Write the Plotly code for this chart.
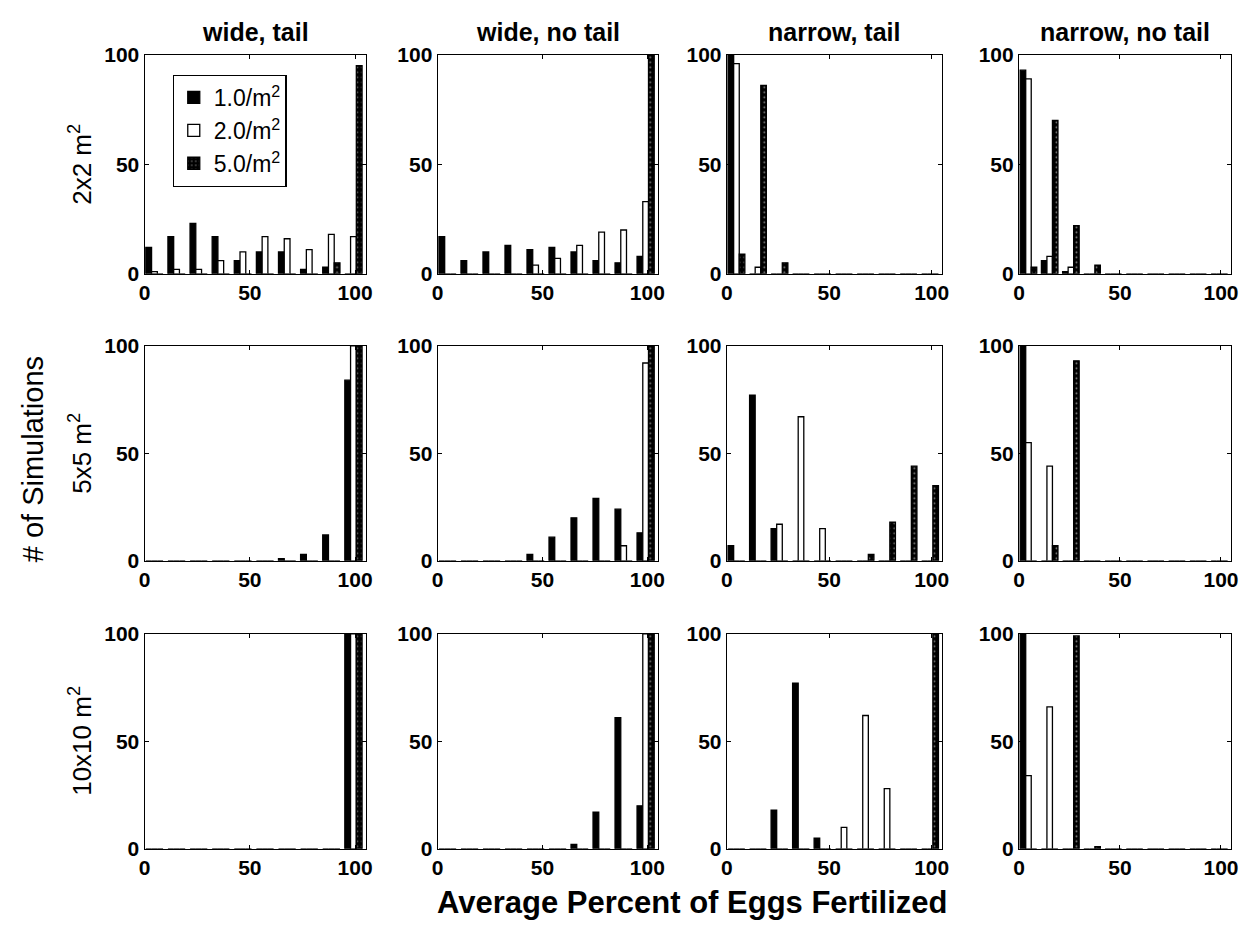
import plotly.graph_objects as go

# ---------------- data ----------------
bin_centers = [4.7, 15.2, 25.7, 36.2, 46.7, 57.2, 67.7, 78.2, 88.7, 99.2]
densities = ["1.0/m<sup>2</sup>", "2.0/m<sup>2</sup>", "5.0/m<sup>2</sup>"]
col_titles = ["wide, tail", "wide, no tail", "narrow, tail", "narrow, no tail"]
row_titles = ["2x2 m<sup>2</sup>", "5x5 m<sup>2</sup>", "10x10 m<sup>2</sup>"]
x_ticks = [0, 50, 100]
y_ticks = [0, 50, 100]

# 2x2 m^2
r1_wide_tail_d1 = [12, 17, 23, 17, 6, 10, 10, 2, 3, 0]
r1_wide_tail_d2 = [1, 2, 2, 6, 10, 17, 16, 11, 18, 17]
r1_wide_tail_d5 = [0, 0, 0, 0, 0, 0, 0, 0, 5, 95]
r1_wide_notail_d1 = [17, 6, 10, 13, 11, 12, 10, 6, 5, 8]
r1_wide_notail_d2 = [0, 0, 0, 0, 4, 7, 13, 19, 20, 33]
r1_wide_notail_d5 = [0, 0, 0, 0, 0, 0, 0, 0, 0, 100]
r1_narrow_tail_d1 = [100, 0, 0, 0, 0, 0, 0, 0, 0, 0]
r1_narrow_tail_d2 = [96, 3, 0, 0, 0, 0, 0, 0, 0, 0]
r1_narrow_tail_d5 = [9, 86, 5, 0, 0, 0, 0, 0, 0, 0]
r1_narrow_notail_d1 = [93, 6, 1, 0, 0, 0, 0, 0, 0, 0]
r1_narrow_notail_d2 = [89, 8, 3, 0, 0, 0, 0, 0, 0, 0]
r1_narrow_notail_d5 = [3, 70, 22, 4, 0, 0, 0, 0, 0, 0]

# 5x5 m^2
r2_wide_tail_d1 = [0, 0, 0, 0, 0, 0, 1, 3, 12, 84]
r2_wide_tail_d2 = [0, 0, 0, 0, 0, 0, 0, 0, 0, 100]
r2_wide_tail_d5 = [0, 0, 0, 0, 0, 0, 0, 0, 0, 100]
r2_wide_notail_d1 = [0, 0, 0, 0, 3, 11, 20, 29, 24, 13]
r2_wide_notail_d2 = [0, 0, 0, 0, 0, 0, 0, 0, 7, 92]
r2_wide_notail_d5 = [0, 0, 0, 0, 0, 0, 0, 0, 0, 100]
r2_narrow_tail_d1 = [7, 77, 15, 0, 0, 0, 0, 0, 0, 0]
r2_narrow_tail_d2 = [0, 0, 17, 67, 15, 0, 0, 0, 0, 0]
r2_narrow_tail_d5 = [0, 0, 0, 0, 0, 0, 3, 18, 44, 35]
r2_narrow_notail_d1 = [100, 0, 0, 0, 0, 0, 0, 0, 0, 0]
r2_narrow_notail_d2 = [55, 44, 0, 0, 0, 0, 0, 0, 0, 0]
r2_narrow_notail_d5 = [0, 7, 93, 0, 0, 0, 0, 0, 0, 0]

# 10x10 m^2
r3_wide_tail_d1 = [0, 0, 0, 0, 0, 0, 0, 0, 0, 100]
r3_wide_tail_d2 = [0, 0, 0, 0, 0, 0, 0, 0, 0, 100]
r3_wide_tail_d5 = [0, 0, 0, 0, 0, 0, 0, 0, 0, 100]
r3_wide_notail_d1 = [0, 0, 0, 0, 0, 0, 2, 17, 61, 20]
r3_wide_notail_d2 = [0, 0, 0, 0, 0, 0, 0, 0, 0, 100]
r3_wide_notail_d5 = [0, 0, 0, 0, 0, 0, 0, 0, 0, 100]
r3_narrow_tail_d1 = [0, 0, 18, 77, 5, 0, 0, 0, 0, 0]
r3_narrow_tail_d2 = [0, 0, 0, 0, 0, 10, 62, 28, 0, 0]
r3_narrow_tail_d5 = [0, 0, 0, 0, 0, 0, 0, 0, 0, 100]
r3_narrow_notail_d1 = [100, 0, 0, 0, 0, 0, 0, 0, 0, 0]
r3_narrow_notail_d2 = [34, 66, 0, 0, 0, 0, 0, 0, 0, 0]
r3_narrow_notail_d5 = [0, 0, 99, 1, 0, 0, 0, 0, 0, 0]

panels = [
    [(r1_wide_tail_d1, r1_wide_tail_d2, r1_wide_tail_d5),
     (r1_wide_notail_d1, r1_wide_notail_d2, r1_wide_notail_d5),
     (r1_narrow_tail_d1, r1_narrow_tail_d2, r1_narrow_tail_d5),
     (r1_narrow_notail_d1, r1_narrow_notail_d2, r1_narrow_notail_d5)],
    [(r2_wide_tail_d1, r2_wide_tail_d2, r2_wide_tail_d5),
     (r2_wide_notail_d1, r2_wide_notail_d2, r2_wide_notail_d5),
     (r2_narrow_tail_d1, r2_narrow_tail_d2, r2_narrow_tail_d5),
     (r2_narrow_notail_d1, r2_narrow_notail_d2, r2_narrow_notail_d5)],
    [(r3_wide_tail_d1, r3_wide_tail_d2, r3_wide_tail_d5),
     (r3_wide_notail_d1, r3_wide_notail_d2, r3_wide_notail_d5),
     (r3_narrow_tail_d1, r3_narrow_tail_d2, r3_narrow_tail_d5),
     (r3_narrow_notail_d1, r3_narrow_notail_d2, r3_narrow_notail_d5)],
]

# ---------------- layout geometry (target pixels in the picture) ----------------
W, H = 1236, 920
OX, OY = 8, 8  # body margin of the html page
# measured screen mapping: screen = a + b * page
AX, BX = 5.6, 0.989
AY, BY = 11.4, 0.975
col_px = [(144, 365), (437, 657), (726, 941), (1018, 1230)]
row_px = [(54, 273), (345, 560), (633, 848)]

def px_x(p):
    page = (p - AX) / BX
    return min(1.0, max(0.0, (page - OX) / W))

def px_y(p):
    page = (p - AY) / BY
    return min(1.0, max(0.0, 1 - (page - OY) / H))

FONT = "Liberation Sans, Arial, Helvetica, sans-serif"

fills = [
    dict(color="black"),
    dict(color="white"),
    dict(color="black", pattern=dict(shape=".", fgcolor="white", bgcolor="black", size=5, solidity=0.12)),
]

fig = go.Figure()
layout_axes = {}
for r in range(3):
    for c in range(4):
        idx = r * 4 + c + 1
        xa = "x" if idx == 1 else f"x{idx}"
        ya = "y" if idx == 1 else f"y{idx}"
        for s in range(3):
            mk = dict(fills[s])
            mk["line"] = dict(color="black", width=1.3)
            fig.add_trace(go.Bar(
                x=bin_centers, y=panels[r][c][s], name=densities[s],
                marker=mk, xaxis=xa, yaxis=ya,
                showlegend=(idx == 1), legendgroup=densities[s],
                hoverinfo="x+y+name",
            ))
        common = dict(showline=True, linecolor="black", linewidth=1.2, mirror="ticks",
                      ticks="inside", ticklen=4, tickcolor="black", showgrid=False,
                      zeroline=False,
                      tickfont=dict(family=FONT, size=21, color="black", weight="bold"))
        x0, x1 = col_px[c]
        y0, y1 = row_px[r]
        layout_axes["xaxis" if idx == 1 else f"xaxis{idx}"] = dict(
            common, domain=[px_x(x0), px_x(x1)], range=[0, 105],
            tickvals=x_ticks, anchor=ya, fixedrange=True)
        layout_axes["yaxis" if idx == 1 else f"yaxis{idx}"] = dict(
            common, domain=[px_y(y1), px_y(y0)], range=[0, 100],
            tickvals=y_ticks, anchor=xa, fixedrange=True)

fig.update_layout(**layout_axes)

annotations = []
for c, t in enumerate(col_titles):
    cx = (col_px[c][0] + col_px[c][1]) / 2
    annotations.append(dict(text=f"<b>{t}</b>", x=px_x(cx), y=px_y(31), xref="paper", yref="paper",
                            showarrow=False, xanchor="center", yanchor="middle",
                            font=dict(family=FONT, size=25, color="black")))
for r, t in enumerate(row_titles):
    cy = (row_px[r][0] + row_px[r][1]) / 2
    annotations.append(dict(text=t, x=px_x(80), y=px_y(cy), xref="paper", yref="paper",
                            showarrow=False, xanchor="center", yanchor="middle", textangle=-90,
                            font=dict(family=FONT, size=26, color="black")))
annotations.append(dict(text="# of Simulations", x=px_x(32), y=px_y(458), xref="paper", yref="paper",
                        showarrow=False, xanchor="center", yanchor="middle", textangle=-90,
                        font=dict(family=FONT, size=29, color="black")))
annotations.append(dict(text="<b>Average Percent of Eggs Fertilized</b>", x=px_x(692), y=px_y(902),
                        xref="paper", yref="paper", showarrow=False, xanchor="center", yanchor="middle",
                        font=dict(family=FONT, size=31, color="black")))

fig.update_layout(
    width=W, height=H,
    margin=dict(l=0, r=0, t=0, b=0),
    paper_bgcolor="white", plot_bgcolor="white",
    barmode="group", bargap=0.22, bargroupgap=0.0,
    annotations=annotations,
    legend=dict(x=px_x(172), y=px_y(74), xanchor="left", yanchor="top",
                bgcolor="white", bordercolor="black", borderwidth=1.2,
                font=dict(family=FONT, size=23, color="black"),
                tracegroupgap=0, itemwidth=30),
    font=dict(family=FONT, color="black"),
)

fig.write_html("out.html", config={"displayModeBar": False})
